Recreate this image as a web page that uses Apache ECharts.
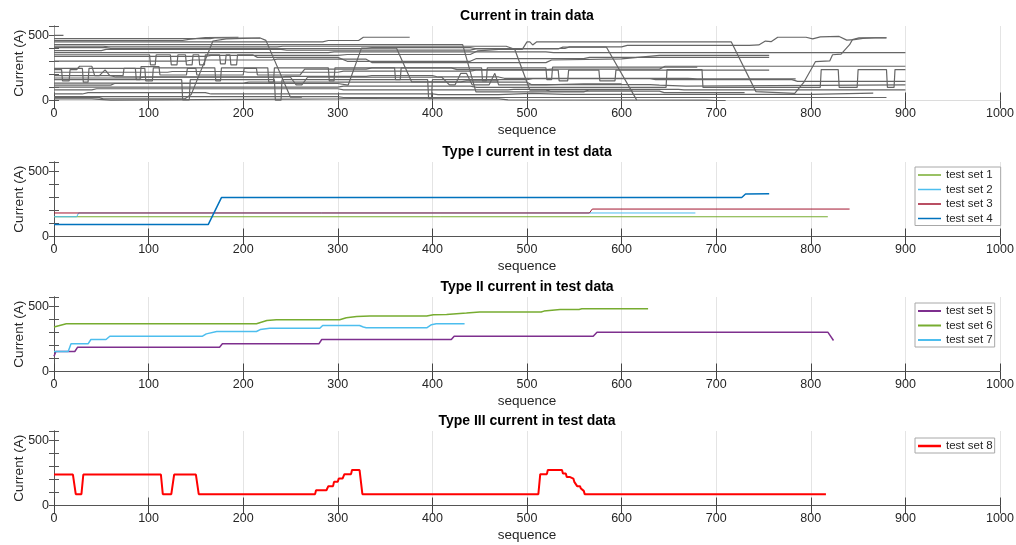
<!DOCTYPE html>
<html>
<head>
<meta charset="utf-8">
<script src="https://cdn.jsdelivr.net/npm/echarts@6.0.0/dist/echarts.min.js"></script>
<style>
html, body { margin: 0; padding: 0; background: #fff; }
#chart { width: 1016px; height: 545px; }
</style>
</head>
<body>
<div id="chart"></div>
<script>
// ---- data (sequence, current A) ----
var titles = ['Current in train data', 'Type I current in test data', 'Type II current in test data', 'Type III current in test data']
var yLabelValues = [0, 500]

// train curves (breakpoints)
var train01 = [[0,498],[10,498]]
var train02 = [[0,474],[165,474],[170,478],[218,478]]
var train03 = [[0,22],[48,22],[52,12],[138,12],[145,45],[168,455],[182,472],[218,478],[224,460],[250,25],[262,25]]
var train04 = [[0,459],[136,459],[144,470],[160,482],[195,484]]
var train05 = [[0,448],[284,448],[290,459],[322,459],[327,484],[376,484]]
var train06 = [[0,428],[432,428],[446,66],[560,66],[566,82],[612,82]]
var train07 = [[0,415],[52,415],[58,410],[236,410],[242,415],[478,415],[487,392],[503,80],[520,80],[525,72],[640,72],[645,60],[730,60]]
var train08 = [[0,118],[60,118],[64,130],[300,130],[311,118],[325,401],[362,401],[378,143],[430,143],[436,150],[470,150]]
var train09 = [[0,366],[290,366],[296,372],[520,372],[528,366],[900,366]]
var train10 = [[0,337],[160,337],[166,345],[300,345],[310,352],[440,352],[448,380],[470,391],[495,391],[500,448],[503,448],[506,425],[510,448],[716,448],[742,68],[783,55],[793,143],[805,298],[820,303],[823,350],[832,355],[841,427],[844,466],[851,479],[880,479]]
var train11 = [[0,404],[55,404],[60,398],[330,398],[336,404],[440,404],[445,398],[540,398],[545,410],[600,410],[606,422],[735,422],[745,425],[752,455],[758,450],[765,484],[795,484],[802,472],[810,487],[830,490],[838,462],[846,466],[855,475],[868,480],[880,480]]
var train12 = [[0,381],[50,381],[55,391],[240,391],[246,386],[440,386],[446,395],[533,395],[538,408],[584,408],[616,3]]
var train13 = [[0,350],[101,350],[102,272],[107,272],[108,350],[123,350],[124,272],[130,272],[131,350],[139,350],[140,272],[146,272],[147,350],[153,350],[154,272],[159,272],[160,350],[175,350],[176,280],[181,280],[182,350],[186,350],[187,272],[193,272],[194,350],[210,350],[215,330],[300,330],[310,300],[440,300],[446,320],[560,320],[566,330],[756,330]]
var train14 = [[0,302],[140,302],[146,310],[230,310],[236,316],[330,316],[336,290],[520,290],[526,310],[600,318],[640,345],[756,345]]
var train15 = [[0,236],[8,236],[9,150],[16,150],[17,236],[24,236],[27,262],[40,262],[43,190],[48,190],[54,234],[59,190],[73,190],[74,246],[86,246],[87,160],[91,160],[92,259],[111,259],[112,195],[140,195],[141,246],[150,246],[151,195],[200,195],[201,246],[214,246],[215,195],[260,195],[265,240],[330,240],[336,250],[420,250],[426,236],[520,236],[526,240],[640,240],[646,262],[900,262]]
var train16 = [[0,102],[300,102],[306,110],[440,110],[447,100],[647,100],[648,236],[685,236],[686,100],[810,100],[811,236],[829,236],[830,100],[849,100],[850,236],[880,236],[881,100],[888,100],[889,236],[900,236]]
var train17 = [[0,216],[120,216],[125,222],[200,222],[205,216],[300,216],[306,225],[440,225],[446,232],[533,232],[534,150],[543,150],[544,232],[576,232],[577,150],[593,150],[594,232],[756,232]]
var train18 = [[0,190],[60,190],[65,180],[240,180],[245,185],[330,185],[336,190],[400,190],[406,180],[470,180],[476,170],[670,170],[680,165],[784,165]]
var train19 = [[0,159],[135,159],[136,5],[143,5],[144,159],[233,159],[234,3],[240,3],[241,159],[395,159],[396,14],[399,14],[400,159],[500,159],[506,168],[630,168],[636,160],[780,160],[786,146],[900,146]]
var train20 = [[0,133],[200,133],[206,140],[500,140],[505,121],[630,121],[640,118],[668,110],[900,120]]
var train21 = [[0,81],[40,81],[45,90],[300,90],[306,81],[480,81],[486,85],[660,85],[666,81],[900,81]]
var train22 = [[0,50],[30,50],[36,60],[160,60],[166,50],[400,50],[406,45],[470,45],[505,55],[540,47],[800,47],[866,56]]
var train23 = [[0,29],[300,29],[306,23],[880,23]]
var train24 = [[0,12],[40,12],[42,3],[60,3],[62,12],[300,12],[315,14],[320,14],[470,12],[480,5],[690,3],[700,0],[710,0]]
var train25 = [[0,246],[30,246],[31,140],[36,140],[37,246],[96,246],[97,150],[104,150],[105,250],[170,250],[171,150],[176,150],[177,250],[226,250],[227,140],[232,140],[233,250],[290,250],[291,150],[296,150],[297,250],[360,250],[361,160],[366,160],[367,250],[452,250],[453,150],[457,150],[458,250],[520,250],[521,160],[526,160],[527,255],[680,255]]
var train26 = [[0,172],[90,172],[95,178],[250,178],[256,120],[262,120],[268,178],[410,178],[418,120],[424,120],[430,208],[436,208],[442,120],[460,120],[466,208],[470,120],[520,120],[560,128],[600,128]]
var trainSets = [train01, train02, train03, train04, train05, train06, train07, train08, train09, train10, train11, train12,
  train13, train14, train15, train16, train17, train18, train19, train20, train21, train22, train23, train24, train25, train26]

// Type I
var testSet1 = [[0,151],[818,151]]
var testSet2 = [[0,151],[24,151],[26,180],[678,180]]
var testSet3 = [[0,180],[566,180],[569,210],[841,210]]
var testSet4 = [[0,91],[163,91],[177,298],[727,298],[731,325],[756,328]]
// Type II
var testSet5 = [[0,117],[2,153],[22,153],[25,186],[175,186],[178,212],[280,212],[283,245],[420,245],[423,270],[570,270],[574,301],[818,301],[824,237]]
var testSet6 = [[0,340],[13,365],[214,365],[225,390],[235,396],[302,396],[309,411],[320,421],[334,424],[394,424],[401,434],[415,436],[436,447],[450,455],[515,455],[518,462],[535,475],[555,475],[558,480],[628,480]]
var testSet7 = [[0,153],[15,153],[18,212],[36,212],[39,245],[55,245],[59,270],[157,270],[161,288],[172,306],[214,306],[218,321],[228,331],[281,331],[284,352],[323,352],[327,340],[330,334],[394,334],[399,358],[404,365],[434,365]]
// Type III
var testSet8 = [[0,237],[20,237],[23,87],[29,87],[31,237],[113,237],[115,87],[124,87],[127,237],[150,237],[153,87],[276,87],[277,117],[288,117],[290,148],[295,148],[296,181],[300,181],[301,206],[305,206],[307,240],[314,240],[315,271],[323,271],[326,87],
  [512,87],[514,240],[521,240],[522,271],[537,271],[538,245],[541,245],[542,219],[545,219],[546,206],[549,206],[550,181],[552,181],[553,148],[556,148],[557,130],[559,130],[560,112],[561,87],[816,87]]

var typeINames = ['test set 1', 'test set 2', 'test set 3', 'test set 4']
var typeIINames = ['test set 5', 'test set 6', 'test set 7']
var typeIIINames = ['test set 8']

// ---- layout / style ----
var FONT = 'Liberation Sans, Arial, Helvetica, sans-serif'
var TXT = '#262626'
var gridTops = [26, 162, 297, 431]
var gridLeft = 54
var gridWidth = 946
var gridHeight = 74.5
var yMax = 570

var chart = echarts.init(document.getElementById('chart'))

var grids = []
var xAxes = []
var yAxes = []
var graphics = []
for (var i = 0; i < 4; i++) {
  var boxTop = (i === 0) ? '#dcdcdc' : '#555'
  var boxRight = (i === 0) ? '#9a9a9a' : '#555'
  grids.push({ left: gridLeft, top: gridTops[i], width: gridWidth, height: gridHeight, containLabel: false, outerBoundsMode: 'none' })
  xAxes.push({
    type: 'value', gridIndex: i, min: 0, max: 1000, interval: 100, position: 'bottom',
    name: 'sequence', nameLocation: 'middle', nameGap: 23, nameMoveOverlap: false,
    nameTextStyle: { fontFamily: FONT, fontSize: 13.5, color: TXT },
    axisLine: { show: true, lineStyle: { color: '#555', width: 1 } },
    axisTick: { show: true, inside: true, length: 8, lineStyle: { color: '#444' } },
    axisLabel: { margin: 7, fontFamily: FONT, fontSize: 12.5, color: TXT, formatter: function(v) { return String(v) } },
    splitLine: { show: true, lineStyle: { color: '#e4e4e4', width: 1 } }
  })
  xAxes.push({
    type: 'value', gridIndex: i, min: 0, max: 1000, interval: 100, position: 'top',
    axisLine: { show: true, lineStyle: { color: boxTop, width: 1 } },
    axisTick: { show: true, inside: true, length: 8, lineStyle: { color: '#444' } },
    axisLabel: { show: false },
    splitLine: { show: false }
  })
  yAxes.push({
    type: 'value', gridIndex: i, min: 0, max: yMax, interval: 100, position: 'left',
    name: 'Current (A)', nameLocation: 'middle', nameGap: 28, nameMoveOverlap: false,
    nameTextStyle: { fontFamily: FONT, fontSize: 13.5, color: TXT },
    axisLine: { show: true, lineStyle: { color: '#555', width: 1 } },
    axisTick: { show: true, inside: true, length: 5, lineStyle: { color: '#555' } },
    axisLabel: {
      margin: 5, fontFamily: FONT, fontSize: 12.5, color: TXT,
      formatter: function(v) { return yLabelValues.indexOf(v) >= 0 ? String(v) : '' }
    },
    splitLine: { show: false }
  })
  yAxes.push({
    type: 'value', gridIndex: i, min: 0, max: yMax, interval: 100, position: 'right',
    axisLine: { show: true, lineStyle: { color: boxRight, width: 1 } },
    axisTick: { show: true, inside: true, length: 5, lineStyle: { color: '#555' } },
    axisLabel: { show: false },
    splitLine: { show: false }
  })
  graphics.push({
    type: 'text', x: gridLeft + gridWidth / 2, y: gridTops[i] - 10,
    style: { text: titles[i], fill: '#000', font: 'bold 14px ' + FONT, textAlign: 'center', textVerticalAlign: 'middle' }
  })
}

var series = []
trainSets.forEach(function(d, k) {
  series.push({
    name: 'train ' + (k + 1), type: 'line', xAxisIndex: 0, yAxisIndex: 0, data: d,
    showSymbol: false, symbol: 'none', silent: true,
    lineStyle: { color: '#666', width: 1.2 }
  })
})
function testLine(name, data, grid, color, width) {
  return {
    name: name, type: 'line', xAxisIndex: grid * 2, yAxisIndex: grid * 2, data: data,
    showSymbol: false, symbol: 'none', silent: true,
    itemStyle: { color: color },
    lineStyle: { color: color, width: width }
  }
}
series.push(testLine('test set 1', testSet1, 1, '#77AC30', 1))
series.push(testLine('test set 2', testSet2, 1, '#4DBEEE', 1))
series.push(testLine('test set 3', testSet3, 1, '#A2142F', 1))
series.push(testLine('test set 4', testSet4, 1, '#0072BD', 1.5))
series.push(testLine('test set 5', testSet5, 2, '#7E2F8E', 1.5))
series.push(testLine('test set 6', testSet6, 2, '#77AC30', 1.5))
series.push(testLine('test set 7', testSet7, 2, '#4DBEEE', 1.5))
series.push(testLine('test set 8', testSet8, 3, '#FF0000', 2))

function legendBox(names, top, padRight, h) {
  return {
    orient: 'vertical', left: 915, top: top, data: names, icon: 'rect',
    itemWidth: 23, itemHeight: h, itemGap: 2.5, selectedMode: false,
    padding: [2, padRight, 1, 3],
    borderColor: '#a8a8a8', borderWidth: 1, backgroundColor: '#fff',
    textStyle: { fontFamily: FONT, fontSize: 11.5, color: TXT }
  }
}

var option = {
  animation: false,
  backgroundColor: '#fff',
  grid: grids,
  xAxis: xAxes,
  yAxis: yAxes,
  legend: [
    legendBox(typeINames, 167, 8, 1.5),
    legendBox(typeIINames, 303, 2, 2),
    legendBox(typeIIINames, 438, 2, 2.5)
  ],
  graphic: graphics,
  series: series
}
chart.setOption(option, true)
</script>
</body>
</html>
